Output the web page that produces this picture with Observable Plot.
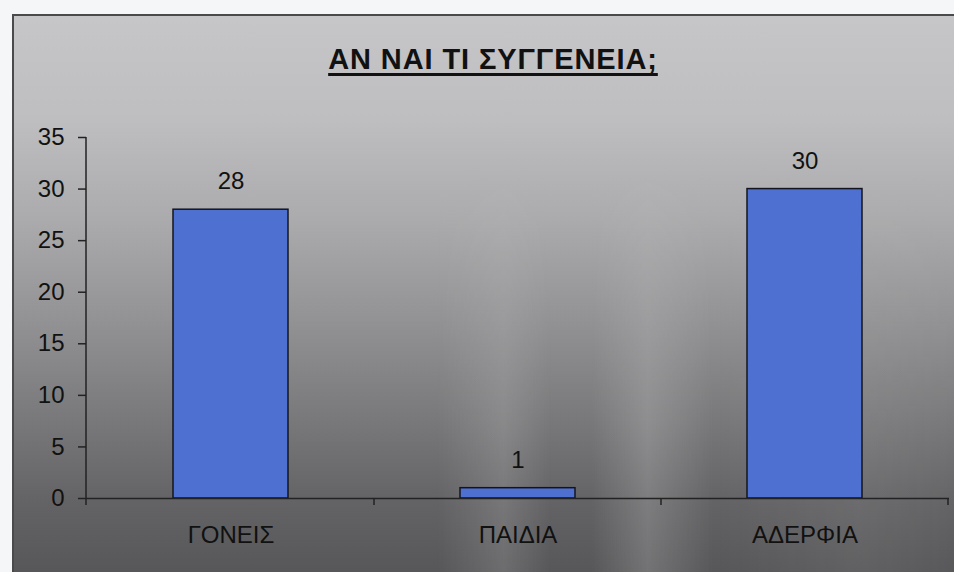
<!DOCTYPE html>
<html>
<head>
<meta charset="utf-8">
<script src="https://cdn.jsdelivr.net/npm/d3@7"></script>
<script src="https://cdn.jsdelivr.net/npm/@observablehq/plot@0.6"></script>
<style>
  html, body { margin: 0; padding: 0; background: #f5f6f8; }
  #page { position: relative; width: 954px; height: 572px; overflow: hidden; background: #f5f6f8; }
  #frame {
    position: absolute; left: 12px; top: 14px; width: 960px; height: 580px;
    border-left: 2px solid #4a4a4a; border-top: 2px solid #4a4a4a;
    background: linear-gradient(180deg, #c6c6c8 0%, #bebec0 18%, #ababad 35%, #939395 52%, #7b7b7d 68%, #636365 84%, #535355 100%);
  }
  #streaks {
    position: absolute; left: 14px; top: 16px; width: 960px; height: 580px;
    background: linear-gradient(90deg, rgba(255,255,255,0) 0%, rgba(255,255,255,0) 44%, rgba(255,255,255,0.13) 51%, rgba(255,255,255,0) 56%, rgba(255,255,255,0) 60%, rgba(255,255,255,0.17) 66%, rgba(255,255,255,0) 73%, rgba(255,255,255,0.06) 88%, rgba(255,255,255,0) 100%);
    -webkit-mask-image: linear-gradient(180deg, transparent 25%, black 70%);
    mask-image: linear-gradient(180deg, transparent 25%, black 70%);
  }
  #title {
    position: absolute; left: 0; top: 43px; width: 986px; text-align: center;
    font-family: "Liberation Sans", Arial, sans-serif; font-weight: bold; font-size: 29px;
    letter-spacing: 0.9px; color: #111; text-decoration: underline; text-decoration-thickness: 3px;
    text-underline-offset: 4px; text-decoration-skip-ink: none;
  }
  #chart { position: absolute; left: 0; top: 100px; }
</style>
</head>
<body>
<div id="page">
  <div id="frame"></div>
  <div id="streaks"></div>
  <div id="title">ΑΝ ΝΑΙ ΤΙ ΣΥΓΓΕΝΕΙΑ;</div>
  <div id="chart"></div>
</div>
<script>
const categories = ["ΓΟΝΕΙΣ", "ΠΑΙΔΙΑ", "ΑΔΕΡΦΙΑ"];
const values = [28, 1, 30];
const yTicks = [0, 5, 10, 15, 20, 25, 30, 35];

const data = categories.map((c, i) => ({category: c, value: values[i]}));

const font = '"Liberation Sans", Arial, sans-serif';

// custom mark: y axis line and x category separator ticks, drawn from the scales
function axisLines(index, scales, values, dims) {
  const g = d3.create("svg:g").attr("stroke", "#222").attr("stroke-width", 1.5);
  const x = scales.x, y = scales.y;
  const step = x.step ? x.step() : x.bandwidth() / 0.4;
  const bw = x.bandwidth();
  const y0 = y(0), yTop = y(35);
  const xl = dims.marginLeft;
  g.append("line").attr("x1", xl).attr("x2", xl).attr("y1", yTop).attr("y2", y0 + 7);
  const offsets = categories.map(c => x(c) - (step - bw) / 2).concat([x(categories[categories.length - 1]) + bw + (step - bw) / 2]);
  offsets.slice(1).forEach(px => {
    g.append("line").attr("x1", px).attr("x2", px).attr("y1", y0).attr("y2", y0 + 7);
  });
  return g.node();
}

const plot = Plot.plot({
  width: 954,
  height: 472,
  marginTop: 37,
  marginBottom: 74,
  marginLeft: 86,
  marginRight: 5,
  style: {background: "transparent", fontFamily: font, color: "#111", overflow: "visible"},
  x: {domain: categories, paddingInner: 0.6, paddingOuter: 0.3, align: 0.5, label: null},
  y: {domain: [0, 35], label: null},
  marks: [
    Plot.axisY({ticks: yTicks, tickSize: 8, tickPadding: 14, fontSize: 24, stroke: "#222", strokeWidth: 1.5, label: null, fill: "#111"}),
    Plot.axisX({tickSize: 0, tickPadding: 27, fontSize: 24, label: null, fill: "#111"}),
    Plot.barY(data, {x: "category", y: "value", fill: "#4d70d1", stroke: "#14141e", strokeWidth: 1.5}),
    Plot.ruleY([0], {stroke: "#222", strokeWidth: 1.5}),
    axisLines,
    Plot.text(data, {x: "category", y: "value", text: d => String(d.value), dy: -28, fontSize: 24, fill: "#111"})
  ]
});
document.getElementById("chart").appendChild(plot);
</script>
</body>
</html>
